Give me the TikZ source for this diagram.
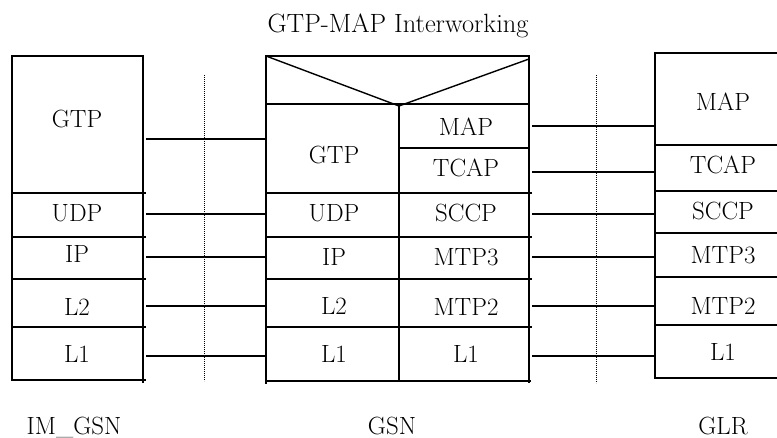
\documentclass[tikz,border=0pt]{standalone}
\usepackage{fontspec}
\begin{document}
\begin{tikzpicture}[x=1bp,y=-1bp,
  stackline/.style={line width=1.4bp, line cap=rect},
  conn/.style={line width=1.3bp},
  sep/.style={line width=0.9bp, dash pattern=on 1bp off 1bp},
  lbl/.style={inner sep=0pt, text depth=0pt, font=\fontsize{25}{28}\selectfont}]
\useasboundingbox (0,0) rectangle (777,438);

% ---- titles
\node[lbl, font=\fontsize{26.5}{29}\selectfont] (title) at (398,23) {GTP-MAP Interworking};
\node[lbl] (nimgsn) at (74,426) {IM\_GSN};
\node[lbl] (ngsn) at (392,426) {GSN};
\node[lbl] (nglr) at (723,426) {GLR};

% ---- left stack (IM_GSN)
\draw[stackline] (12,56) -- (143,56);
\draw[stackline] (12,56) -- (12,380);
\draw[stackline] (143,56) -- (143,382);
\foreach \yy in {193,237,279,327} \draw[stackline] (14,\yy) -- (145,\yy);
\draw[stackline] (12,380) -- (145,380);
\node[lbl] (lgtp) at (77,118.5) {GTP};
\node[lbl] (ludp) at (77,212.5) {UDP};
\node[lbl] (lip)  at (77,254) {IP};
\node[lbl] (ll2)  at (77,307) {L2};
\node[lbl] (ll1)  at (77,353.5) {L1};

% ---- middle stack (GSN)
\draw[stackline] (266,56) -- (529,56);
\draw[stackline] (266,56) -- (266,383);
\draw[stackline] (529,56) -- (529,382);
\draw[stackline] (266,104) -- (529,104);
\draw[stackline] (266,56) -- (399,106) -- (529,59);
\draw[stackline] (399,106) -- (399,380);
\draw[stackline] (401,148) -- (529,148);
\foreach \yy in {193,237,279,327} \draw[stackline] (267,\yy) -- (531,\yy);
\draw[stackline] (267,381) -- (530,381);
\node[lbl] (mgtp)  at (334,154.5) {GTP};
\node[lbl] (mmap)  at (466,126.5) {MAP};
\node[lbl] (mtcap) at (466,168) {TCAP};
\node[lbl] (mudp)  at (334,213) {UDP};
\node[lbl] (msccp) at (466,213) {SCCP};
\node[lbl] (mip)   at (334,257) {IP};
\node[lbl] (mmtp3) at (466,257) {MTP3};
\node[lbl] (ml2)   at (334,305.5) {L2};
\node[lbl] (mmtp2) at (466,307) {MTP2};
\node[lbl] (ml1a)  at (334,353.5) {L1};
\node[lbl] (ml1b)  at (466,353.5) {L1};

% ---- right stack (GLR)
\draw[stackline] (655,53) -- (777,53);
\draw[stackline] (655,53) -- (655,378);
\foreach \yy in {145,191,233,277,325,378} \draw[stackline] (655,\yy) -- (777,\yy);
\node[lbl] (rmap)  at (723,101.5) {MAP};
\node[lbl] (rtcap) at (723,164.5) {TCAP};
\node[lbl] (rsccp) at (723,210.5) {SCCP};
\node[lbl] (rmtp3) at (723,255) {MTP3};
\node[lbl] (rmtp2) at (723,305.5) {MTP2};
\node[lbl] (rl1)   at (723,352) {L1};

% ---- separators
\coordinate (s1a) at (204,75);  \coordinate (s1b) at (204,381);
\coordinate (s2a) at (596,75);  \coordinate (s2b) at (596,383);
\draw[sep] (s1a) -- (s1b);
\draw[sep] (s2a) -- (s2b);

% ---- connectors left
\foreach \nm/\yy in {gtp/139,udp/214,ip/257,ltwo/306,lone/356}{
  \coordinate (La\nm) at (146,\yy);
  \coordinate (Lb\nm) at (267,\yy);
  \draw[conn] (La\nm) -- (Lb\nm);
}
% ---- connectors right
\foreach \nm/\yy in {map/126,tcap/172,sccp/214,mtpthree/257,mtptwo/306,lone/356}{
  \coordinate (Ra\nm) at (532,\yy);
  \coordinate (Rb\nm) at (654,\yy);
  \draw[conn] (Ra\nm) -- (Rb\nm);
}
\end{tikzpicture}
\end{document}
